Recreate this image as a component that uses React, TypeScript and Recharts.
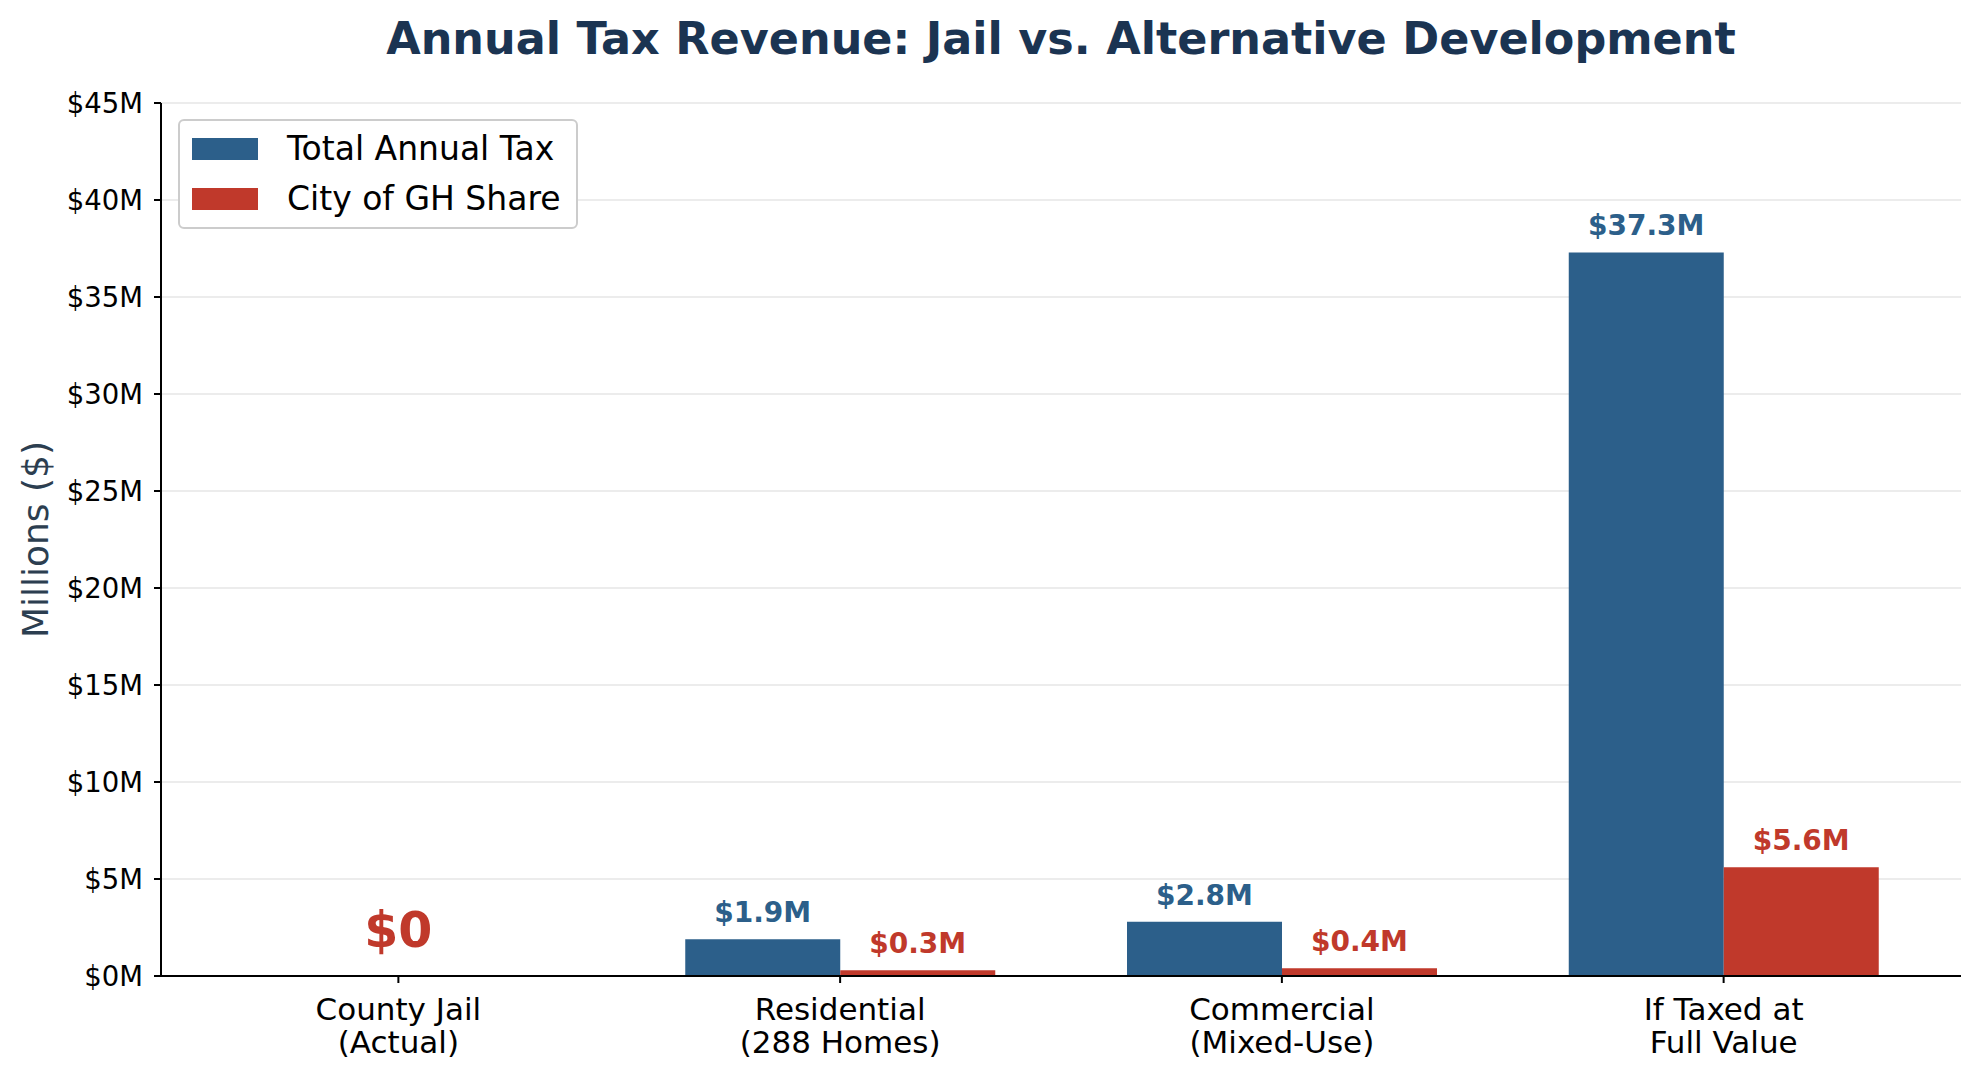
import { Bar, BarChart, CartesianGrid, LabelList, Legend, ReferenceDot, XAxis, YAxis } from "recharts";

const categories = [
  "County Jail\n(Actual)",
  "Residential\n(288 Homes)",
  "Commercial\n(Mixed-Use)",
  "If Taxed at\nFull Value",
];
const totalTax = [0, 1.9, 2.8, 37.3];
const cityShare = [0, 0.3, 0.4, 5.6];
const yTicks = [0, 5, 10, 15, 20, 25, 30, 35, 40, 45];
const jailNote = { value: 1.5, text: "$0" };

const BLUE = "#2c5f8a";
const RED = "#c0392b";
const FONT = "'DejaVu Sans', sans-serif";

const data = categories.map((name, i) => ({ name, total: totalTax[i], city: cityShare[i] }));

const XTick = ({ x, y, payload }: any) => {
  const lines = String(payload.value).split("\n");
  return (
    <text x={x} y={y} textAnchor="middle" fontFamily={FONT} fontSize={31} fill="#000">
      {lines.map((l, i) => (
        <tspan key={i} x={x} dy={i === 0 ? 29 : 33}>
          {l}
        </tspan>
      ))}
    </text>
  );
};

const valueLabel = (color: string) => (props: any) => {
  const { x, y, width, value } = props;
  if (!value) return null;
  return (
    <text
      x={x + width / 2}
      y={y - 17}
      textAnchor="middle"
      fontFamily={FONT}
      fontWeight="bold"
      fontSize={28}
      fill={color}
    >
      {`$${Number(value).toFixed(1)}M`}
    </text>
  );
};

const LegendBox = () => (
  <div
    style={{
      display: "inline-block",
      border: "2.5px solid #cccccc",
      borderRadius: 6,
      background: "#fff",
      padding: "3px 15px 3px 12px",
      fontFamily: FONT,
      fontSize: 33,
      color: "#000",
    }}
  >
    {[
      { label: "Total Annual Tax", color: BLUE },
      { label: "City of GH Share", color: RED },
    ].map((it) => (
      <div key={it.label} style={{ display: "flex", alignItems: "center", height: 50 }}>
        <span style={{ width: 66, height: 22, background: it.color, display: "inline-block" }} />
        <span style={{ marginLeft: 29, lineHeight: "50px", whiteSpace: "nowrap" }}>{it.label}</span>
      </div>
    ))}
  </div>
);

const YLabel = ({ viewBox }: any) => {
  const cx = 35;
  const cy = viewBox.y + viewBox.height / 2;
  return (
    <text
      x={cx}
      y={cy}
      transform={`rotate(-90 ${cx} ${cy})`}
      textAnchor="middle"
      dominantBaseline="central"
      fontFamily={FONT}
      fontSize={36}
      fill="#2c3e50"
    >
      Millions ($)
    </text>
  );
};

export default function App() {
  return (
    <div style={{ position: "absolute", left: 0, top: 0, width: 1979, height: 1079, background: "#fff" }}>
      <svg width={1979} height={80} style={{ position: "absolute", left: 0, top: 0 }}>
        <text x={1061} y={54} textAnchor="middle" fontFamily={FONT} fontWeight="bold" fontSize={44.5} fill="#1b3452">
          Annual Tax Revenue: Jail vs. Alternative Development
        </text>
      </svg>
      <BarChart
        width={1979}
        height={1079}
        data={data}
        margin={{ top: 103, right: 18, bottom: 3, left: 71 }}
        barGap={0}
        barSize={155}
      >
        <CartesianGrid vertical={false} stroke="#e6e6e6" strokeWidth={1.5} />
        <XAxis
          dataKey="name"
          interval={0}
          padding={{ left: 16.5, right: 16.5 }}
          height={100}
          tickSize={7}
          tickMargin={8}
          axisLine={{ stroke: "#000", strokeWidth: 2 }}
          tickLine={{ stroke: "#000", strokeWidth: 2 }}
          tick={<XTick />}
        />
        <YAxis
          domain={[0, 45]}
          ticks={yTicks}
          width={90}
          tickSize={7}
          tickMargin={11}
          axisLine={{ stroke: "#000", strokeWidth: 2 }}
          tickLine={{ stroke: "#000", strokeWidth: 2 }}
          tick={{ fill: "#000", fontSize: 27.5, fontFamily: FONT }}
          tickFormatter={(v: number) => `$${v}M`}
          label={<YLabel />}
        />
        <Legend
          verticalAlign="middle"
          align="center"
          layout="vertical"
          content={<LegendBox />}
          wrapperStyle={{ top: 119, left: 178, width: "auto" }}
        />
        <Bar dataKey="total" name="Total Annual Tax" fill={BLUE} isAnimationActive={false}>
          <LabelList dataKey="total" content={valueLabel(BLUE)} />
        </Bar>
        <Bar dataKey="city" name="City of GH Share" fill={RED} isAnimationActive={false}>
          <LabelList dataKey="city" content={valueLabel(RED)} />
        </Bar>
        <ReferenceDot
          x={categories[0]}
          y={jailNote.value}
          r={0}
          shape={(p: any) => (
            <text
              x={p.cx}
              y={p.cy}
              textAnchor="middle"
              fontFamily={FONT}
              fontWeight="bold"
              fontSize={49}
              fill={RED}
            >
              {jailNote.text}
            </text>
          )}
        />
      </BarChart>
    </div>
  );
}
